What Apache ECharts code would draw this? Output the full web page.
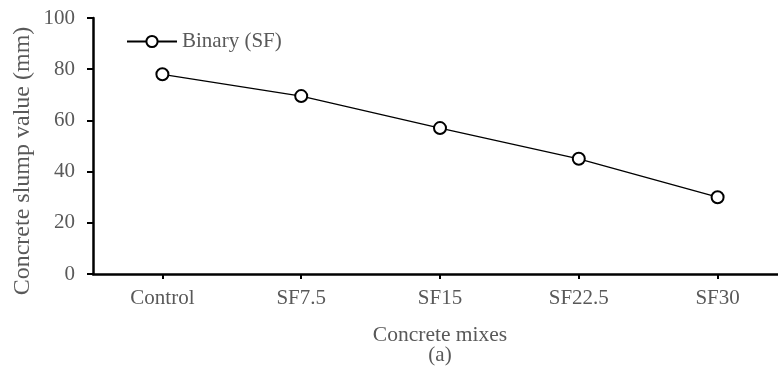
<!DOCTYPE html>
<html>
<head>
<meta charset="utf-8">
<script src="https://cdn.jsdelivr.net/npm/echarts@6/dist/echarts.min.js"></script>
<style>
  html, body { margin: 0; padding: 0; background: #fff; overflow: hidden; }
  /* the category axis runs slightly past the right edge of the window */
  #chart { width: 790px; height: 372px; }
</style>
</head>
<body>
<div id="chart"></div>
<script>
// Slump of binary silica-fume mixes
const categories = ['Control', 'SF7.5', 'SF15', 'SF22.5', 'SF30'];
const slumpSF = [78, 69.5, 57, 45, 30];
const yTicks = { min: 0, max: 100, interval: 20 };

const FONT = '"Liberation Serif", "Times New Roman", serif';
const GREY = '#595959';

const chart = echarts.init(document.getElementById('chart'), null, { renderer: 'canvas' });
chart.setOption({
  backgroundColor: '#ffffff',
  animation: false,
  textStyle: { fontFamily: FONT },
  grid: { left: 93, top: 18, height: 256, width: 694, containLabel: false },
  legend: {
    left: 126,
    top: 31,
    padding: 0,
    itemWidth: 50,
    itemHeight: 14,
    itemGap: 10,
    textStyle: { fontFamily: FONT, fontSize: 21, color: GREY },
    data: ['Binary (SF)']
  },
  xAxis: {
    type: 'category',
    data: categories,
    boundaryGap: true,
    name: 'Concrete mixes',
    nameLocation: 'middle',
    nameGap: 50,
    nameTextStyle: { fontFamily: FONT, fontSize: 21.5, color: GREY },
    axisLine: { lineStyle: { color: '#000', width: 2.5 } },
    axisTick: { show: true, alignWithLabel: true, length: 5, lineStyle: { color: '#000', width: 2 } },
    axisLabel: { margin: 14, fontFamily: FONT, fontSize: 21, color: GREY },
    splitLine: { show: false }
  },
  yAxis: {
    type: 'value',
    min: yTicks.min,
    max: yTicks.max,
    interval: yTicks.interval,
    axisLine: { show: true, lineStyle: { color: '#000', width: 2.5 } },
    axisTick: { show: true, length: 6, lineStyle: { color: '#000', width: 2 } },
    axisLabel: { margin: 18, fontFamily: FONT, fontSize: 21, color: GREY },
    splitLine: { show: false }
  },
  graphic: [
    {
      type: 'text',
      x: 23,
      y: 161,
      rotation: Math.PI / 2,
      style: {
        text: 'Concrete slump value (mm)',
        font: '24px ' + FONT,
        fill: GREY,
        align: 'center',
        verticalAlign: 'middle'
      }
    },
    {
      type: 'text',
      x: 440,
      y: 355,
      style: {
        text: '(a)',
        font: '21px ' + FONT,
        fill: GREY,
        align: 'center',
        verticalAlign: 'middle'
      }
    }
  ],
  series: [{
    name: 'Binary (SF)',
    type: 'line',
    data: slumpSF,
    symbol: 'circle',
    symbolSize: 12,
    lineStyle: { color: '#000', width: 1.3 },
    itemStyle: { color: '#ffffff', borderColor: '#000', borderWidth: 2 }
  }]
});
</script>
</body>
</html>
